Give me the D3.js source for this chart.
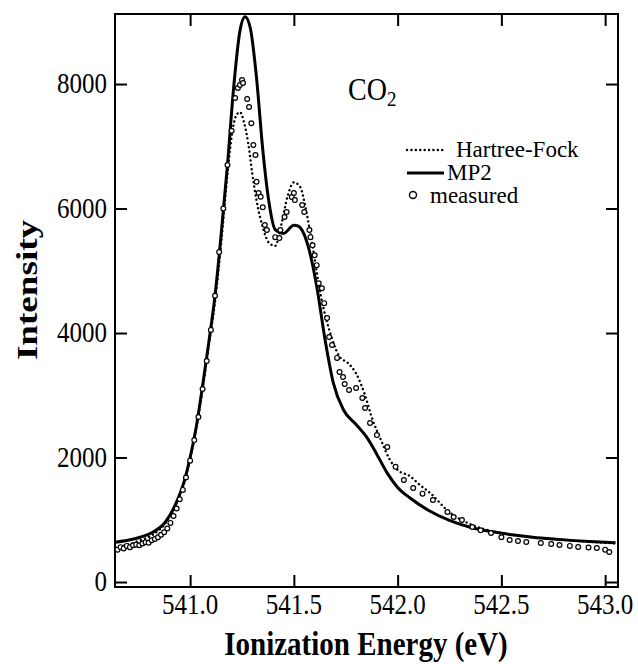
<!DOCTYPE html>
<html lang="en">
<head>
    <meta charset="UTF-8">
    <script src="https://cdn.jsdelivr.net/npm/d3@7"></script>
    <title>CO2 spectrum</title>
    <style>
        body { margin: 0; background: white; }
        svg { display: block; }
        text { font-family: "Liberation Serif", "Times New Roman", serif; fill: black; }
    </style>
</head>
<body>
<script>
    // tick values
    const xTicks = [541.0, 541.5, 542.0, 542.5, 543.0];
    const yTicks = [0, 2000, 4000, 6000, 8000];

    // MP2 (solid)
    const mp2Energy = [540.64, 540.70, 540.76, 540.82, 540.88, 540.93, 540.97, 541.00, 541.03, 541.06,
        541.09, 541.12, 541.15, 541.18, 541.21, 541.24, 541.265, 541.29, 541.32, 541.35,
        541.38, 541.41, 541.45, 541.50, 541.52, 541.55, 541.58, 541.61, 541.65, 541.69,
        541.74, 541.80, 541.85, 541.90, 541.95, 542.00, 542.06, 542.15, 542.25, 542.35,
        542.45, 542.55, 542.65, 542.75, 542.85, 542.95, 543.05];
    const mp2Intensity = [640, 670, 720, 800, 960, 1250, 1600, 2000, 2500, 3150,
        3850, 4600, 5600, 6700, 7950, 8850, 9080, 8900, 8100, 6950,
        6100, 5660, 5600, 5730, 5720, 5580, 5250, 4750, 3900, 3200,
        2760, 2530, 2330, 2050, 1750, 1520, 1350, 1150, 990, 880,
        810, 760, 720, 690, 665, 645, 630];

    // Hartree-Fock (dotted)
    const hfEnergy = [540.64, 540.70, 540.76, 540.82, 540.88, 540.93, 540.97, 541.00, 541.03, 541.06,
        541.09, 541.12, 541.15, 541.18, 541.20, 541.22, 541.24, 541.26, 541.28, 541.30,
        541.32, 541.35, 541.38, 541.41, 541.44, 541.47, 541.50, 541.53, 541.56, 541.59,
        541.63, 541.68, 541.72, 541.76, 541.80, 541.84, 541.88, 541.92, 541.96, 542.00,
        542.06, 542.10, 542.16, 542.25, 542.35, 542.45, 542.55, 542.65, 542.75, 542.85,
        542.95, 543.05];
    const hfIntensity = [560, 600, 670, 760, 940, 1230, 1580, 1980, 2480, 3100,
        3800, 4500, 5450, 6550, 7150, 7480, 7550, 7380, 7050, 6550,
        6130, 5700, 5450, 5400, 5750, 6200, 6420, 6350, 5950, 5400,
        4600, 3950, 3620, 3520, 3350, 3030, 2600, 2280, 1980, 1800,
        1700, 1580, 1420, 1120, 930, 820, 760, 720, 690, 665,
        640, 620];

    // measured (circles)
    const measEnergy = [540.650, 540.665, 540.680, 540.695, 540.710, 540.725, 540.740, 540.755, 540.770, 540.785,
        540.800, 540.815, 540.830, 540.845, 540.860, 540.875, 540.890, 540.905, 540.920, 540.935,
        540.950, 540.965, 540.980, 541.000, 541.020, 541.040, 541.060, 541.080, 541.100, 541.120,
        541.140, 541.160, 541.180, 541.200, 541.217, 541.230, 541.240, 541.250, 541.255, 541.275,
        541.284, 541.295, 541.305, 541.315, 541.320, 541.330, 541.340, 541.350, 541.360, 541.370,
        541.410, 541.430, 541.435, 541.455, 541.465, 541.490, 541.500, 541.505, 541.540, 541.550,
        541.575, 541.580, 541.590, 541.600, 541.610, 541.620, 541.635, 541.646, 541.660, 541.670,
        541.684, 541.708, 541.720, 541.737, 541.745, 541.766, 541.800, 541.830, 541.843, 541.867,
        541.900, 541.950, 541.990, 542.030, 542.075, 542.120, 542.170, 542.240, 542.270, 542.310,
        542.360, 542.400, 542.450, 542.500, 542.540, 542.580, 542.620, 542.690, 542.740, 542.780,
        542.830, 542.870, 542.920, 542.960, 543.000, 543.020];
    const measIntensity = [520, 560, 540, 580, 560, 590, 600, 590, 620, 640,
        630, 670, 690, 720, 760, 800, 860, 950, 1060, 1180,
        1330, 1480, 1680, 1950, 2280, 2650, 3100, 3550, 4050, 4600,
        5300, 6000, 6700, 7250, 7775, 7936, 7984, 8064, 8016, 7760,
        7630, 7370, 7020, 6860, 6430, 6250, 6190, 6020, 5735, 5655,
        5540, 5525, 5655, 5865, 5945, 6185, 6250, 6135, 6056, 5945,
        5655, 5540, 5410, 5250, 5090, 4800, 4720, 4480, 4240, 3935,
        3807, 3600, 3373, 3293, 3180, 3084, 3116, 2956, 2795, 2554,
        2360, 2170, 1850, 1640, 1510, 1420, 1317, 1124, 1044, 996,
        884, 830, 787, 720, 675, 660, 643, 627, 610, 594,
        580, 562, 555, 546, 520, 482];

    const width = 638, height = 664;
    const plot = { left: 115, right: 618, top: 14, bottom: 587 };

    const svg = d3.select("body").append("svg")
        .attr("width", width)
        .attr("height", height);

    const x = d3.scaleLinear().domain([540.638, 543.062]).range([plot.left, plot.right]);
    const y = d3.scaleLinear().domain([-80, 9125]).range([plot.bottom, plot.top]);

    // inward ticks on all four sides
    const tick = 12;
    const axes = [
        [d3.axisBottom(x).tickValues(xTicks), `translate(0,${plot.bottom})`],
        [d3.axisTop(x).tickValues(xTicks), `translate(0,${plot.top})`],
        [d3.axisLeft(y).tickValues(yTicks), `translate(${plot.left},0)`],
        [d3.axisRight(y).tickValues(yTicks), `translate(${plot.right},0)`]
    ];
    axes.forEach(([ax, tr]) => {
        const g = svg.append("g")
            .attr("transform", tr)
            .call(ax.tickSize(-tick).tickFormat(""));
        g.select(".domain").remove();
        g.selectAll("line").attr("stroke", "black").attr("stroke-width", 2);
    });

    svg.append("rect")
        .attr("x", plot.left).attr("y", plot.top)
        .attr("width", plot.right - plot.left)
        .attr("height", plot.bottom - plot.top)
        .attr("fill", "none")
        .attr("stroke", "black")
        .attr("stroke-width", 2);

    // tick labels (source figure is slightly stretched vertically)
    svg.selectAll(".xlab").data(xTicks).enter().append("text")
        .attr("transform", d => `translate(${x(d)},614) scale(1,1.18)`)
        .attr("text-anchor", "middle")
        .style("font-size", "25px")
        .text(d => d3.format(".1f")(d));

    svg.selectAll(".ylab").data(yTicks).enter().append("text")
        .attr("transform", d => `translate(107,${y(d) + 9}) scale(1,1.15)`)
        .attr("text-anchor", "end")
        .style("font-size", "25px")
        .text(d => d);

    // axis titles
    svg.append("text")
        .attr("transform", "translate(366,655) scale(1,1.15)")
        .attr("text-anchor", "middle")
        .style("font-size", "29px")
        .style("font-weight", "bold")
        .text("Ionization Energy (eV)");

    svg.append("text")
        .attr("transform", "translate(37,290) rotate(-90) scale(1.28,1)")
        .attr("text-anchor", "middle")
        .style("font-size", "29px")
        .style("font-weight", "bold")
        .text("Intensity");

    // curves
    const line = d3.line()
        .x(d => x(d[0]))
        .y(d => y(d[1]))
        .curve(d3.curveMonotoneX);

    svg.append("path")
        .datum(hfEnergy.map((e, i) => [e, hfIntensity[i]]))
        .attr("d", line)
        .attr("fill", "none")
        .attr("stroke", "black")
        .attr("stroke-width", 2.4)
        .attr("stroke-linecap", "round")
        .attr("stroke-dasharray", "0.1,4.3");

    svg.append("path")
        .datum(mp2Energy.map((e, i) => [e, mp2Intensity[i]]))
        .attr("d", line)
        .attr("fill", "none")
        .attr("stroke", "black")
        .attr("stroke-width", 3);

    svg.selectAll(".meas")
        .data(measEnergy.map((e, i) => [e, measIntensity[i]]))
        .enter().append("circle")
        .attr("cx", d => x(d[0]))
        .attr("cy", d => y(d[1]))
        .attr("r", 2.4)
        .attr("fill", "white")
        .attr("stroke", "black")
        .attr("stroke-width", 1.2);

    // CO2 label
    const co2 = svg.append("text")
        .attr("transform", "translate(348,100) scale(1,1.15)")
        .style("font-size", "28px");
    co2.append("tspan").text("CO");
    co2.append("tspan").attr("dy", 5).style("font-size", "19px").text("2");

    // legend
    const legend = svg.append("g");
    legend.append("line")
        .attr("x1", 407).attr("x2", 446).attr("y1", 150).attr("y2", 150)
        .attr("stroke", "black").attr("stroke-width", 2.4)
        .attr("stroke-linecap", "round").attr("stroke-dasharray", "0.1,4.3");
    legend.append("text")
        .attr("transform", "translate(456,157)")
        .style("font-size", "23px").text("Hartree-Fock");
    legend.append("line")
        .attr("x1", 407).attr("x2", 444).attr("y1", 173).attr("y2", 173)
        .attr("stroke", "black").attr("stroke-width", 3);
    legend.append("text")
        .attr("transform", "translate(447,180)")
        .style("font-size", "23px").text("MP2");
    legend.append("circle")
        .attr("cx", 413).attr("cy", 195).attr("r", 3.5)
        .attr("fill", "white").attr("stroke", "black").attr("stroke-width", 1.4);
    legend.append("text")
        .attr("transform", "translate(430,203)")
        .style("font-size", "23px").text("measured");
</script>
</body>
</html>
